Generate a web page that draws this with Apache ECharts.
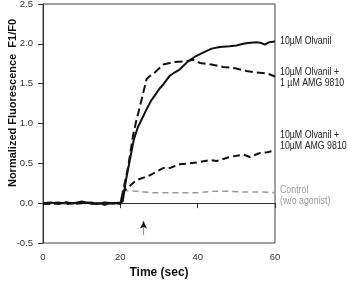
<!DOCTYPE html>
<html>
<head>
<meta charset="utf-8">
<script src="https://cdn.jsdelivr.net/npm/echarts@6/dist/echarts.min.js"></script>
<style>
  html, body { margin: 0; padding: 0; background: #fff; }
  #main { width: 347px; height: 281px; }
</style>
</head>
<body>
<div id="main"></div>
<script>
'use strict';

/* ===== data ===== */
var baseTime = [0, 2, 4, 6, 8, 10, 12, 14, 16, 18, 20];

var olvTime = baseTime.concat([20.6, 21.5, 22.5, 23.5, 24.5, 25.5, 26.8, 28, 28.9, 30, 31.1, 32.8, 34, 35.4, 37.5, 39.7, 41.4, 43.6, 45.7, 48.3, 50, 51.8, 53, 55.2, 56.5, 57.4, 58.5, 60]);
var olvValues = [0, 0.01, -0.01, 0.01, 0, 0.02, 0, -0.01, 0.01, 0, 0.01,
  0.02, 0.3, 0.55, 0.8, 0.95, 1.05, 1.18, 1.29, 1.35, 1.43, 1.49, 1.6, 1.64, 1.68, 1.78, 1.85, 1.89, 1.94, 1.96, 1.97, 1.98, 2.0, 2.01, 2.02, 2.01, 1.99, 2.02, 2.03];

var amg1Time = baseTime.concat([20.5, 22, 23.3, 24.2, 25.1, 26, 26.8, 28, 28.9, 30, 31.1, 33.7, 37.1, 38.8, 40.6, 43.6, 46.6, 48.5, 50, 52.6, 55.2, 57.9, 60]);
var amg1Values = [-0.01, 0, 0.01, -0.01, 0, 0.01, -0.01, 0, -0.02, 0.01, -0.01,
  0, 0.45, 0.85, 1.05, 1.22, 1.4, 1.56, 1.61, 1.64, 1.69, 1.74, 1.77, 1.78, 1.8, 1.76, 1.74, 1.71, 1.7, 1.69, 1.66, 1.64, 1.63, 1.59];

var amg10Time = baseTime.concat([20.8, 22.5, 24.2, 26, 27.6, 29.5, 31.1, 32.8, 35.4, 37.9, 39.7, 43.2, 44.9, 48.3, 51.8, 53.5, 56.1, 58, 60]);
var amg10Values = [0, -0.01, 0, 0.01, -0.01, 0, 0.01, 0, -0.01, 0, -0.01,
  0.15, 0.22, 0.29, 0.32, 0.35, 0.4, 0.44, 0.44, 0.49, 0.5, 0.51, 0.54, 0.53, 0.58, 0.61, 0.58, 0.63, 0.64, 0.66];

var ctrlTime = baseTime.concat([20.8, 24.2, 28.5, 32, 36, 40, 44, 48.3, 51.8, 57, 60]);
var ctrlValues = [0, 0.01, 0, -0.01, 0, 0.01, 0, 0, 0.01, -0.01, 0,
  0.16, 0.15, 0.13, 0.13, 0.13, 0.13, 0.15, 0.15, 0.14, 0.14, 0.13];

// series in drawing order: control, 10µM AMG, 1µM AMG, olvanil
var seriesLabels = ['Control\n(w/o agonist)', '10µM Olvanil +\n10µM AMG 9810', '10µM Olvanil +\n1 µM AMG 9810', '10µM Olvanil'];
var xTicks = [0, 20, 40, 60];
var arrowTime = 26;

function pairs(t, v) {
  return t.map(function (x, i) { return [x, v[i]]; });
}

var myChart = echarts.init(document.getElementById('main'));

var option = {
  animation: false,
  grid: { left: 43, right: 72, top: 4, bottom: 38, show: true, borderColor: '#444', borderWidth: 1,
    outerBoundsMode: 'none', containLabel: false },
  xAxis: {
    type: 'value', min: 0, max: 60, interval: 20,
    name: 'Time (sec)', nameLocation: 'middle', nameGap: 22,
    nameTextStyle: { fontFamily: 'Liberation Sans, Arial, sans-serif', fontWeight: 'bold', fontSize: 12, color: '#111' },
    axisLine: { lineStyle: { color: '#333' } },
    axisTick: { length: 5, lineStyle: { color: '#333' } },
    axisLabel: { fontFamily: 'Liberation Sans, Arial, sans-serif', fontSize: 9.5, color: '#333', margin: 9,
      formatter: function (v) { return xTicks.indexOf(v) >= 0 ? String(v) : ''; } },
    splitLine: { show: false }
  },
  yAxis: {
    type: 'value', min: -0.5, max: 2.5, interval: 0.5,
    axisLine: { show: true, lineStyle: { color: '#333' } },
    axisTick: { show: true, length: 5, lineStyle: { color: '#333' } },
    axisLabel: { fontFamily: 'Liberation Sans, Arial, sans-serif', fontSize: 9.5, color: '#333', margin: 10,
      formatter: function (v) { return v.toFixed(1); } },
    splitLine: { show: false }
  },
  series: [
    {
      type: 'line', data: pairs(ctrlTime, ctrlValues), symbol: 'none',
      lineStyle: { color: '#999', width: 1.6, type: [6, 4] },
      markLine: {
        silent: true,
        symbol: ['arrow', 'none'],
        symbolSize: [5, 7],
        label: { show: false },
        lineStyle: { color: '#999', width: 1.2, type: 'solid' },
        data: [[{ coord: [arrowTime, -0.23] }, { coord: [arrowTime, -0.4] }]]
      }
    },
    {
      type: 'line', data: pairs(amg10Time, amg10Values), symbol: 'none',
      lineStyle: { color: '#111', width: 2, type: [7, 4] }
    },
    {
      type: 'line', data: pairs(amg1Time, amg1Values), symbol: 'none',
      lineStyle: { color: '#111', width: 2, type: [8, 4] }
    },
    {
      type: 'line', data: pairs(olvTime, olvValues), symbol: 'none',
      lineStyle: { color: '#111', width: 2 },
      markLine: {
        silent: true,
        symbol: ['arrow', 'none'],
        symbolSize: [5, 7],
        label: { show: false },
        lineStyle: { color: '#111', width: 1.2, type: 'solid' },
        data: [[{ coord: [arrowTime, -0.23] }, { coord: [arrowTime, -0.26] }]]
      }
    }
  ]
};

myChart.setOption(option);

/* ==== right-hand labels, placed at each line's last point ==== */
var lastVals = [ctrlValues, amg10Values, amg1Values, olvValues].map(function (a) { return a[a.length - 1]; });
var labelShift = [3, -10, 1, 0];
var labelColor = ['#999', '#222', '#222', '#222'];
var graphics = [{
  type: 'text',
  x: 13, y: 103,
  rotation: Math.PI / 2,
  style: {
    text: 'Normalized Fluorescence  F1/F0',
    fill: '#111',
    font: 'bold 11px "Liberation Sans", Arial, sans-serif',
    align: 'center',
    verticalAlign: 'middle'
  }
}];
lastVals.forEach(function (v, i) {
  var p = myChart.convertToPixel({ seriesIndex: i }, [60, v]);
  graphics.push({
    type: 'text',
    x: p[0] + 5, y: p[1] + labelShift[i],
    scaleX: 0.8,
    style: {
      text: seriesLabels[i],
      fill: labelColor[i],
      font: '11px "Liberation Sans", Arial, sans-serif',
      lineHeight: 11,
      align: 'left',
      verticalAlign: 'middle'
    }
  });
});
myChart.setOption({ graphic: graphics });
</script>
</body>
</html>
